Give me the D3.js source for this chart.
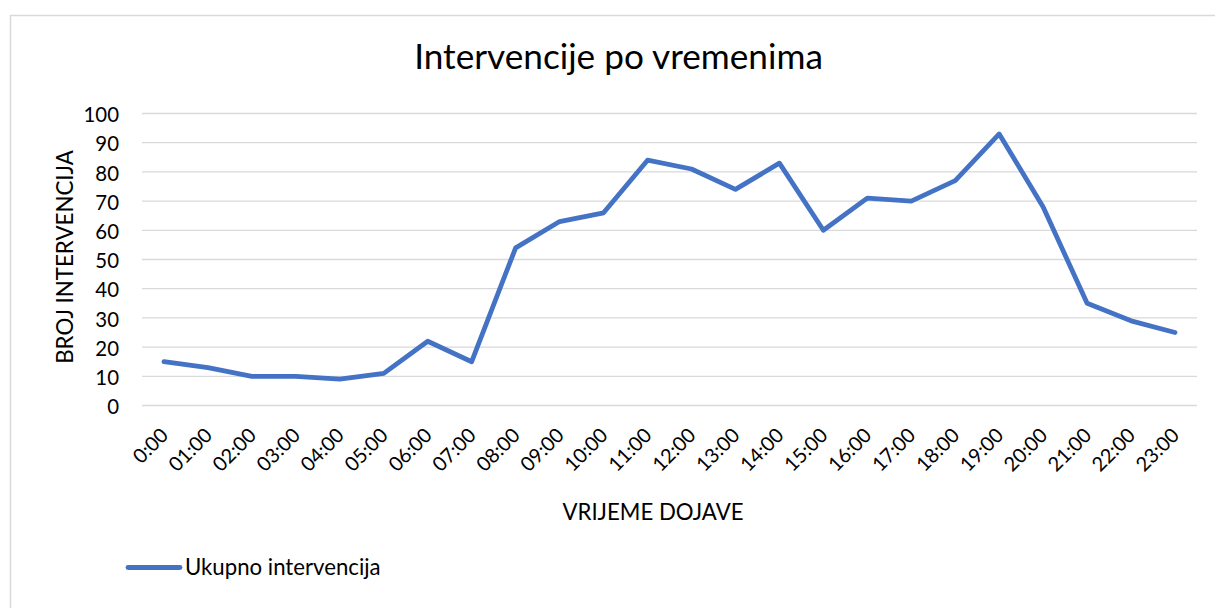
<!DOCTYPE html>
<html><head><meta charset="utf-8">
<script src="https://cdn.jsdelivr.net/npm/d3@7"></script>
<style>body{margin:0;background:#fff}svg{display:block}text{font-family:Lato,"Open Sans",sans-serif;fill:#000}</style>
</head><body><svg id="c" width="1215" height="608"></svg>
<script>
const categories = ["0:00","01:00","02:00","03:00","04:00","05:00","06:00","07:00","08:00","09:00","10:00","11:00","12:00","13:00","14:00","15:00","16:00","17:00","18:00","19:00","20:00","21:00","22:00","23:00"];
const values = [15,13,10,10,9,11,22,15,54,63,66,84,81,74,83,60,71,70,77,93,68,35,29,25];
const yTicks = [0,10,20,30,40,50,60,70,80,90,100];
const seriesName = "Ukupno intervencija";
const title = "Intervencije po vremenima";
const xTitle = "VRIJEME DOJAVE";
const yTitle = "BROJ INTERVENCIJA";

const FONT = "Lato, 'Open Sans', sans-serif";
const svg = d3.select("#c");
svg.append("rect").attr("x",10.5).attr("y",15.5).attr("width",1215).attr("height",600).attr("fill","#fff").attr("stroke","#d9d9d9").attr("stroke-width",1.5);

const L=142,R=1197,T=113.5,B=405.5;
const x = d3.scalePoint().domain(categories).range([L,R]).padding(0.5);
const y = d3.scaleLinear().domain([0,100]).range([B,T]);

const grid = svg.append("g");
grid.selectAll("line").data(yTicks).join("line")
  .attr("x1",L).attr("x2",R).attr("y1",d=>y(d)).attr("y2",d=>y(d))
  .attr("stroke","#d9d9d9").attr("stroke-width",1.3);

const ya = svg.append("g").attr("transform",`translate(${L},0)`)
  .call(d3.axisLeft(y).tickValues(yTicks).tickSize(0).tickPadding(23));
ya.select(".domain").remove();
ya.selectAll("text").attr("font-size",20.4).attr("font-family",FONT).attr("fill","#000").attr("dy","0.4em");

const xa = svg.append("g").attr("transform",`translate(0,${B})`)
  .call(d3.axisBottom(x).tickSize(0));
xa.select(".domain").remove();
xa.selectAll("text").attr("font-size",20).attr("font-family",FONT).attr("fill","#000")
  .attr("text-anchor","end").attr("dy",0).attr("y",0)
  .attr("transform","translate(5,31) rotate(-45)");

const line = d3.line().x((d,i)=>x(categories[i])).y(d=>y(d));
svg.append("path").datum(values).attr("d",line).attr("fill","none")
  .attr("stroke","#4472C4").attr("stroke-width",4.8).attr("stroke-linejoin","round").attr("stroke-linecap","round");

svg.append("text").attr("x",618.5).attr("y",69).attr("text-anchor","middle").attr("font-size",35.2).text(title);
svg.append("text").attr("x",653).attr("y",520).attr("text-anchor","middle").attr("font-size",22.2).text(xTitle);
svg.append("text").attr("transform","translate(73,257) rotate(-90)").attr("text-anchor","middle").attr("font-size",22.3).text(yTitle);

svg.append("line").attr("x1",128).attr("x2",180).attr("y1",567.5).attr("y2",567.5)
  .attr("stroke","#4472C4").attr("stroke-width",4.8).attr("stroke-linecap","round");
svg.append("text").attr("x",185).attr("y",575).attr("font-size",22.2).text(seriesName);
</script></body></html>
